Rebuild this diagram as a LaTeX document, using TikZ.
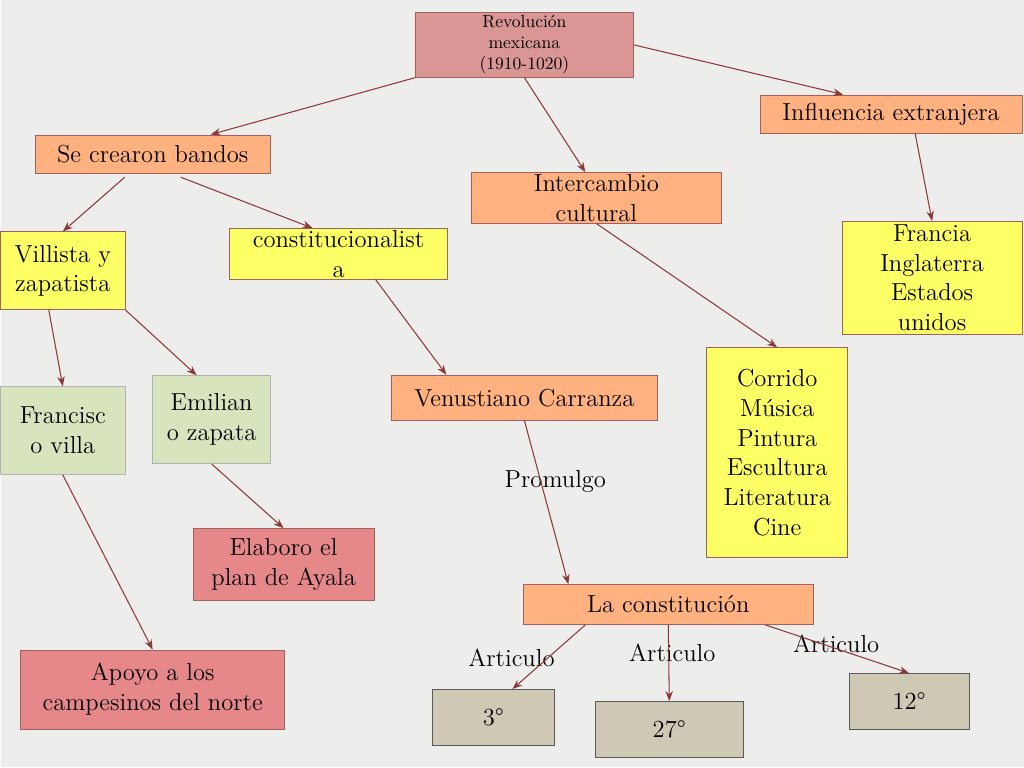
\documentclass[tikz,border=0pt]{standalone}
\usepackage{tikz}
\usetikzlibrary{arrows.meta, positioning}
\definecolor{bgcol}{HTML}{EDEDEB}
\definecolor{rosecol}{HTML}{D99694}
\definecolor{orangecol}{HTML}{FFB27F}
\definecolor{yellowcol}{HTML}{FFFF66}
\definecolor{greencol}{HTML}{D7E4BD}
\definecolor{redcol}{HTML}{E6878A}
\definecolor{taupecol}{HTML}{CFC8B5}
\definecolor{linecol}{HTML}{8B3A3A}
\tikzset{%
	box/.style={draw=linecol!80, rectangle, inner sep=1pt, align=center,
		font=\fontsize{14}{17}\selectfont},
	rev/.style={box, fill=rosecol, font=\fontsize{10}{12}\selectfont},
	orng/.style={box, fill=orangecol},
	yell/.style={box, fill=yellowcol},
	grn/.style={box, fill=greencol, draw=gray!60},
	rd/.style={box, fill=redcol},
	tau/.style={box, fill=taupecol, draw=gray!70!black},
	sel/.style={-{Stealth[length=2mm]}, linecol, semithick},
	lbl/.style={font=\fontsize{14}{17}\selectfont}
}
\begin{document}
\begin{tikzpicture}[x=0.02cm, y=-0.02cm]
	\fill[bgcol] (0,0) rectangle (1024,768);
	\node[rev, minimum width=4.36cm, minimum height=1.3cm, anchor=north] (rev) at (524,12) {Revolución\\mexicana\\(1910-1020)};
	\node[orng, minimum width=5.24cm, minimum height=0.76cm] (infl) at (891,114) {Influencia extranjera};
	\node[orng, minimum width=4.7cm, minimum height=0.76cm] (bandos) at (152,154) {Se crearon bandos};
	\node[orng, minimum width=5cm, minimum height=0.96cm] (inter) at (596,198) {Intercambio\\cultural};
	\node[yell, minimum width=2.5cm, minimum height=1.56cm] (vill) at (62,271) {Villista y\\zapatista};
	\node[yell, minimum width=4.36cm, minimum height=0.96cm] (const) at (338,254) {constitucionalist\\a};
	\node[yell, minimum width=3.6cm, minimum height=2.26cm] (franc) at (932,278) {Francia\\Inglaterra\\Estados\\unidos};
	\node[yell, minimum width=2.82cm, minimum height=4.2cm] (corr) at (777,453) {Corrido\\Música\\Pintura\\Escultura\\Literatura\\Cine};
	\node[grn, minimum width=2.5cm, minimum height=1.76cm] (fvilla) at (62,431) {Francisc\\o villa};
	\node[grn, minimum width=2.36cm, minimum height=1.76cm] (ezap) at (211,420) {Emilian\\o zapata};
	\node[orng, minimum width=5.32cm, minimum height=0.9cm] (venus) at (524,398) {Venustiano Carranza};
	\node[rd, minimum width=3.62cm, minimum height=1.44cm] (plan) at (283,565) {Elaboro el\\plan de Ayala};
	\node[rd, minimum width=5.28cm, minimum height=1.58cm] (apoyo) at (152,690) {Apoyo a los\\campesinos del norte};
	\node[orng, minimum width=5.82cm, minimum height=0.8cm] (lacons) at (668,605) {La constitución};
	\node[tau, minimum width=2.44cm, minimum height=1.12cm] (a3) at (493,718) {3°};
	\node[tau, minimum width=2.96cm, minimum height=1.12cm] (a27) at (669,730) {27°};
	\node[tau, minimum width=2.4cm, minimum height=1.12cm] (a12) at (909,702) {12°};
	\node[lbl] (prom) at (555,482) {Promulgo};
	\node[lbl] (art1) at (511,658) {Articulo};
	\node[lbl] (art2) at (672,653) {Articulo};
	\node[lbl] (art3) at (836,644) {Articulo};
	\draw[sel] (rev.south west) -- ([xshift=1.16cm]bandos.north);
	\draw[sel] (rev.south) -- ([xshift=-0.22cm]inter.north);
	\draw[sel] (rev.east) -- ([xshift=-0.96cm]infl.north);
	\draw[sel] ([xshift=0.48cm]infl.south) -- (franc.north);
	\draw[sel] ([xshift=-0.56cm,yshift=-0.08cm]bandos.south) -- (vill.north);
	\draw[sel] ([xshift=0.56cm,yshift=-0.08cm]bandos.south) -- ([xshift=-0.52cm]const.north);
	\draw[sel] (inter.south) -- (corr.north);
	\draw[sel] ([xshift=-0.28cm]vill.south) -- (fvilla.north);
	\draw[sel] (vill.south east) -- ([xshift=-0.3cm]ezap.north);
	\draw[sel] ([xshift=0.74cm]const.south) -- ([xshift=-1.56cm]venus.north);
	\draw[sel] (fvilla.south) -- (apoyo.north);
	\draw[sel] (ezap.south) -- (plan.north);
	\draw[sel] (venus.south) -- ([xshift=-2cm]lacons.north);
	\draw[sel] ([xshift=-1.66cm]lacons.south) -- ([xshift=0.38cm]a3.north);
	\draw[sel] (lacons.south) -- (a27.north);
	\draw[sel] ([xshift=1.94cm]lacons.south) -- (a12.north);
\end{tikzpicture}
\end{document}
